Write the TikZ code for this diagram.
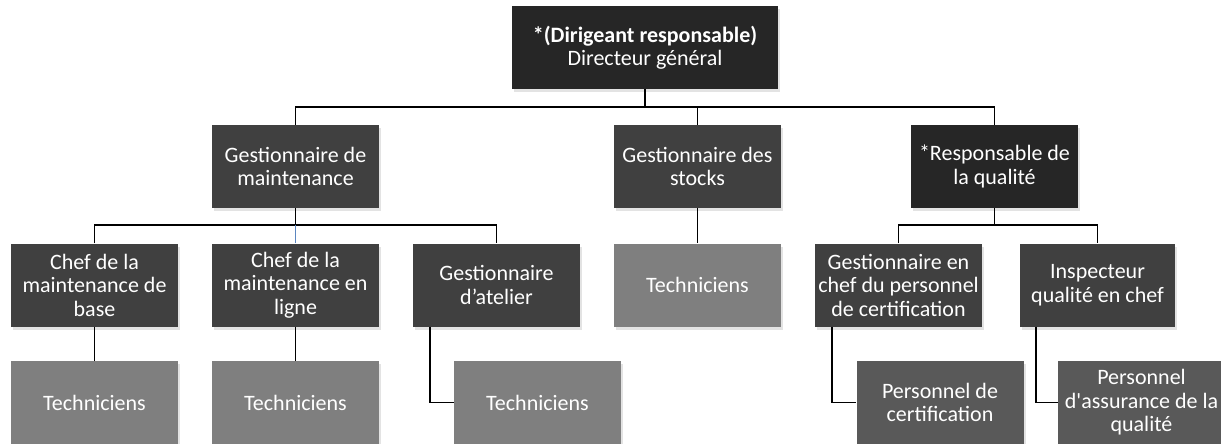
\documentclass[tikz,border=0pt]{standalone}
\usepackage{fontspec}
\setmainfont{Carlito}
\usepackage{tikz}
\usetikzlibrary{calc,shadows}
\definecolor{topcolor}{HTML}{262626}
\definecolor{chefcolor}{HTML}{404040}
\definecolor{staffcolor}{HTML}{595959}
\definecolor{teamcolor}{HTML}{7F7F7F}
\definecolor{oddlink}{HTML}{5B86C0}
\tikzstyle{orgbox} = [
    rectangle,
    text=white,
    font=\fontsize{22}{23.5}\selectfont,
    align=center,
    minimum width=167pt,
    minimum height=83pt,
    inner sep=0pt,
    drop shadow={opacity=0.22, shadow xshift=2pt, shadow yshift=-3pt}
    ]
\tikzstyle{topbox} = [orgbox, fill=topcolor]
\tikzstyle{chefbox} = [orgbox, fill=chefcolor]
\tikzstyle{staffbox} = [orgbox, fill=staffcolor]
\tikzstyle{teambox} = [orgbox, fill=teamcolor]
\tikzstyle{link} = [draw=black, line width=1.8pt]

\begin{document}
\begin{tikzpicture}[x=1pt, y=-1pt]
\useasboundingbox (0,0) rectangle (1221,444);
\clip (0,0) rectangle (1221,444);

% level 1
\node[topbox, minimum width=266pt] (dg) at (645,47.5)
    {\textbf{*(Dirigeant responsable)}\\Directeur général};

% level 2
\node[chefbox] (maint) at (295.5,166.5) {Gestionnaire de\\maintenance};
\node[chefbox] (stocks) at (697.5,166.5) {Gestionnaire des\\stocks};
\node[topbox] (qualite) at (994.5,166.5) {*Responsable de\\la qualité};

% level 3
\node[chefbox] (chefbase) at (94.5,285) {Chef de la\\maintenance de\\base};
\node[chefbox] (chefligne) at (295.5,285) {Chef de la\\maintenance en\\ligne};
\node[chefbox] (atelier) at (496.5,285) {Gestionnaire\\d’atelier};
\node[teambox] (techstocks) at (697.5,285) {Techniciens};
\node[chefbox] (gescert) at (898.5,285) {Gestionnaire en\\chef du personnel\\de certification};
\node[chefbox, minimum width=155pt] (inspecteur) at (1097.5,285) {Inspecteur\\qualité en chef};

% level 4
\node[teambox] (techbase) at (94.5,402.5) {Techniciens};
\node[teambox] (techligne) at (295.5,402.5) {Techniciens};
\node[teambox] (techatelier) at (537.5,402.5) {Techniciens};
\node[staffbox] (perscert) at (940,402.5) {Personnel de\\certification};
\node[staffbox] (persqual) at (1141.5,402.5) {Personnel\\d\textquotesingle assurance de la\\qualité};

% buses
\coordinate (busA) at (645,107);
\coordinate (busB) at (295.5,225);
\coordinate (busC) at (994.5,225);

\draw[link] (dg.south) -- (busA);
\draw[link] (maint.north) |- (busA) -| (qualite.north);
\draw[link] (stocks.north) -- (stocks.north |- busA);

\draw[link] (maint.south) -- (busB);
\draw[link] (chefbase.north) |- (busB) -| (atelier.north);
\draw[link, draw=oddlink] (chefligne.north) -- (busB);

\draw[link] (qualite.south) -- (busC);
\draw[link] (gescert.north) |- (busC) -| (inspecteur.north);

\draw[link] (stocks) -- (techstocks);
\draw[link] (chefbase) -- (techbase);
\draw[link] (chefligne) -- (techligne);

\draw[link] ([xshift=17pt]atelier.south west) |- (techatelier.west);
\draw[link] ([xshift=17pt]gescert.south west) |- (perscert.west);
\draw[link] ([xshift=16pt]inspecteur.south west) |- (persqual.west);
\end{tikzpicture}
\end{document}
